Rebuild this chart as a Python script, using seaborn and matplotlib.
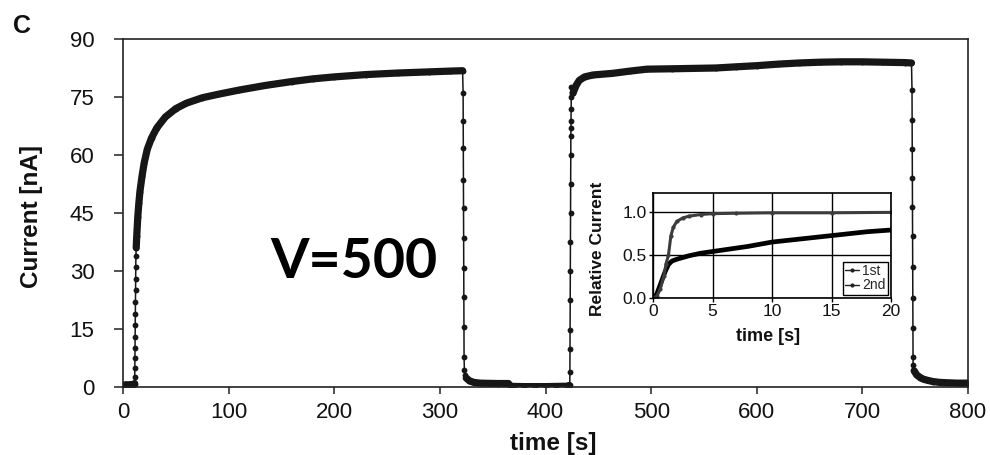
import numpy as np
import pandas as pd
import matplotlib
matplotlib.use("Agg")
import matplotlib.pyplot as plt
import seaborn as sns
from matplotlib.lines import Line2D

# ---------------- main trace: current during two voltage pulses ----------------
# baseline before the first pulse
base1_t = [0, 1, 2, 3, 4, 5, 6, 7, 8, 9, 10, 11]
base1_i = [0.4, 0.5, 0.5, 0.6, 0.5, 0.5, 0.6, 0.5, 0.6, 0.6, 0.7, 0.9]
# switch-on of the first pulse
rise1_t = [11.1, 11.2, 11.3, 11.4, 11.5, 11.6, 11.7, 11.8, 11.9, 12.0, 12.1, 12.2]
rise1_i = [2.5, 5, 7.5, 10, 13, 16, 19, 22, 25, 28, 31, 34]
# first plateau
plat1_t = [12.5, 13, 14, 15, 16, 18, 20, 23, 27, 32, 40, 50, 60, 75, 90, 110,
           135, 160, 180, 200, 230, 260, 290, 310, 321.5]
plat1_i = [36, 39, 44, 47.5, 50.5, 54.5, 57.9, 61.5, 64.4, 67, 69.8, 72, 73.4,
           74.8, 75.7, 76.8, 78.0, 79.0, 79.7, 80.2, 80.8, 81.2, 81.5, 81.7, 81.8]
# switch-off of the first pulse
drop1_t = [322.0, 322.1, 322.2, 322.3, 322.4, 322.5, 322.6, 322.7, 322.8, 322.9, 323.2, 324.0]
drop1_i = [76, 68.7, 61.8, 53.5, 46.3, 38.5, 30.7, 23.3, 15.5, 7.75, 4.4, 3.0]
# decay between the pulses
tail1_t = [325, 328, 332, 338, 345, 355, 365, 366.5, 370, 380, 390, 400, 410, 420, 422.5]
tail1_i = [2.3, 1.6, 1.2, 1.0, 0.95, 0.9, 0.9, 0.2, 0.15, 0.1, 0.1, 0.1, 0.15, 0.2, 0.4]
# switch-on of the second pulse
rise2_t = [423.0, 423.1, 423.2, 423.3, 423.4, 423.5, 423.6, 423.7, 423.8, 423.9,
           424.0, 424.1, 424.2, 424.3, 424.4, 424.5]
rise2_i = [0.5, 3.9, 9.8, 14.8, 22.5, 30, 37.5, 45, 52.5, 60, 65, 67, 68.7, 71.8, 75, 77.5]
# second plateau
plat2_t = [426, 429, 432, 437, 445, 463, 480, 496, 520, 540, 561, 580, 600, 620,
           640, 660, 680, 700, 720, 740, 746.5]
plat2_i = [76, 78, 79.3, 80.2, 80.7, 81.1, 81.7, 82.2, 82.3, 82.4, 82.5, 82.8,
           83.1, 83.5, 83.8, 84.0, 84.1, 84.1, 84.0, 83.9, 83.8]
# switch-off of the second pulse
drop2_t = [747.0, 747.1, 747.2, 747.3, 747.4, 747.5, 747.6, 747.7, 747.8, 747.9, 748.0]
drop2_i = [76.7, 69, 61.5, 54, 46.5, 39, 31, 23, 15.2, 7.8, 5.7]
# final decay
tail2_t = [749, 751.5, 755, 758, 762, 767, 773, 780, 790, 800]
tail2_i = [4.2, 3.1, 2.4, 2.0, 1.7, 1.4, 1.2, 1.1, 1.0, 1.0]

x_ticks = [0, 100, 200, 300, 400, 500, 600, 700, 800]
y_ticks = [0, 15, 30, 45, 60, 75, 90]

# ---------------- inset: normalised rise of both pulses ----------------
first_t = [0, 0.3, 0.6, 0.9, 1.1, 1.3, 1.5, 1.7, 2.0, 2.5, 3.0, 4.0, 5.0, 7.0, 10.0, 15.0, 20.0]
first_r = [0, 0.02, 0.1, 0.25, 0.4, 0.5, 0.72, 0.82, 0.89, 0.93, 0.95, 0.97, 0.98, 0.985, 0.99, 0.99, 0.995]
second_t = [0, 0.3, 0.6, 1.0, 1.3, 1.6, 2.0, 3.0, 4.0, 5.0, 6.0, 8.0, 10.0, 12.0, 14.0, 16.0, 18.0, 20.0]
second_r = [0, 0.04, 0.15, 0.3, 0.39, 0.43, 0.45, 0.49, 0.52, 0.54, 0.56, 0.6, 0.65, 0.68, 0.71, 0.74, 0.77, 0.79]
inset_x_ticks = [0, 5, 10, 15, 20]
inset_y_ticks = [0.0, 0.5, 1.0]

# ---------------- style ----------------
sns.set_theme(style="white")
plt.rcParams["font.family"] = ["Liberation Sans", "DejaVu Sans"]
ink = "#161616"

segments = [
    ("base1", base1_t, base1_i, "steady"),
    ("rise1", rise1_t, rise1_i, "switch"),
    ("plat1", plat1_t, plat1_i, "steady"),
    ("drop1", drop1_t, drop1_i, "switch"),
    ("tail1", tail1_t, tail1_i, "steady"),
    ("rise2", rise2_t, rise2_i, "switch"),
    ("plat2", plat2_t, plat2_i, "steady"),
    ("drop2", drop2_t, drop2_i, "switch"),
    ("tail2", tail2_t, tail2_i, "steady"),
]
trace = pd.concat(
    [pd.DataFrame({"time": t, "current": i, "segment": name, "kind": kind})
     for name, t, i, kind in segments],
    ignore_index=True,
)

fig = plt.figure(figsize=(9.9, 4.55), dpi=100)
ax = fig.add_axes([123 / 990, 1 - 387 / 455, 845 / 990, 348 / 455])

# full record: thin line with a marker at every sample
sns.lineplot(data=trace, x="time", y="current", ax=ax, sort=False, estimator=None,
             color=ink, lw=1.1, marker="o", markersize=4.2, markeredgewidth=0)
# densely sampled stretches appear as a heavy band
for name, grp in trace[trace["kind"] == "steady"].groupby("segment"):
    sns.lineplot(data=grp, x="time", y="current", ax=ax, sort=False, estimator=None,
                 color=ink, lw=5.2, solid_capstyle="round", solid_joinstyle="round")

ax.set_xlim(0, 800)
ax.set_ylim(0, 90)
ax.set_xticks(x_ticks)
ax.set_yticks(y_ticks)
ax.set_xticklabels([str(v) for v in x_ticks])
ax.set_yticklabels([str(v) for v in y_ticks])
ax.tick_params(axis="x", bottom=True, direction="out", length=5, width=1.1,
               color="#222222", pad=5.5, labelsize=16, labelcolor="#111111")
ax.tick_params(axis="y", left=True, direction="out", length=6.5, width=1.1,
               color="#222222", pad=14, labelsize=16, labelcolor="#111111")
for sp in ax.spines.values():
    sp.set_visible(True)
    sp.set_color("#222222")
    sp.set_linewidth(1.2)

ax.set_xlabel("time [s]", fontsize=17.5, fontweight="bold", color="#111111")
ax.set_ylabel("Current [nA]", fontsize=17.5, fontweight="bold", color="#111111")
ax.xaxis.set_label_coords(0.509, -0.13)
ax.yaxis.set_label_coords(-0.095, 0.49)

ax.text(139, 28.2, "V=500", fontsize=40, fontweight="bold",
        fontfamily=["Lato", "DejaVu Sans"], color="black", ha="left", va="baseline")

fig.text(13 / 990, 1 - 14 / 455, "C", fontsize=18, fontweight="bold",
         color="#111111", ha="left", va="top")

# ---------------- inset axes ----------------
axi = fig.add_axes([653 / 990, 1 - 298 / 455, 238 / 990, 105 / 455])
axi.set_facecolor("white")
sns.lineplot(x=second_t, y=second_r, ax=axi, sort=False, estimator=None,
             color="black", lw=3.4, solid_capstyle="round")
sns.lineplot(x=first_t, y=first_r, ax=axi, sort=False, estimator=None,
             color="#3c3c3c", lw=2.2, marker="o", markersize=3, markeredgewidth=0)

axi.set_xlim(0, 20)
axi.set_ylim(0, 1.22)
axi.set_xticks(inset_x_ticks)
axi.set_yticks(inset_y_ticks)
axi.set_xticklabels([str(v) for v in inset_x_ticks])
axi.set_yticklabels([f"{v:.1f}" for v in inset_y_ticks])
axi.grid(True, color="black", lw=1.0)
axi.set_axisbelow(True)
axi.tick_params(axis="both", bottom=True, left=True, direction="out", length=3,
                width=1.0, color="black", pad=1.5, labelsize=12.5, labelcolor="#111111")
for sp in axi.spines.values():
    sp.set_visible(True)
    sp.set_color("black")
    sp.set_linewidth(1.2)
axi.set_xlabel("time [s]", fontsize=13, fontweight="bold", color="#111111")
axi.set_ylabel("Relative Current", fontsize=12.5, fontweight="bold", color="#111111")
axi.xaxis.set_label_coords(0.483, -0.29)
axi.yaxis.set_label_coords(-0.2, 0.467)

handles = [Line2D([], [], color="#222222", lw=1.0, marker="o", markersize=3, markeredgewidth=0),
           Line2D([], [], color="#222222", lw=1.0, marker="o", markersize=3, markeredgewidth=0)]
leg = axi.legend(handles, ["1st", "2nd"], loc="lower right", fontsize=10,
                 frameon=True, fancybox=False, edgecolor="black", framealpha=1,
                 handlelength=1.0, handletextpad=0.2, borderpad=0.15,
                 labelspacing=0.05, borderaxespad=0.25)
leg.get_frame().set_linewidth(1.0)

fig.savefig("out.png", dpi=100)
